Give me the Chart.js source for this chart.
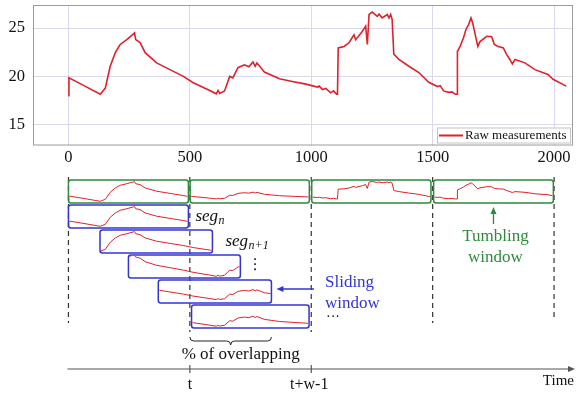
<!DOCTYPE html>
<html>
<head>
<meta charset="utf-8">
<script src="https://cdn.jsdelivr.net/npm/chart.js@4.4.1/dist/chart.umd.min.js"></script>
<style>
  html, body { margin: 0; padding: 0; background: #fff; }
  #wrap { position: relative; width: 576px; height: 396px; overflow: hidden; }
  #topChart { position: absolute; left: 0; top: 0; }
  #diagram { position: absolute; left: 0; top: 170px; }
</style>
</head>
<body>
<div id="wrap">
  <canvas id="topChart" width="576" height="170"></canvas>
  <canvas id="diagram" width="576" height="226"></canvas>
</div>
<script>
const rawTime = [
  0, 2, 60, 131, 152, 172, 193, 213, 240, 268,
  272, 277, 295, 316, 363, 418, 473, 514, 582, 609,
  616, 623, 643, 664, 677, 698, 725, 743, 760, 769,
  776, 807, 869, 917, 978, 1026, 1033, 1046, 1060, 1080,
  1092, 1104, 1108, 1111, 1135, 1156, 1176, 1183, 1210, 1224,
  1231, 1238, 1251, 1272, 1279, 1292, 1313, 1320, 1327, 1333,
  1340, 1361, 1402, 1443, 1484, 1520, 1531, 1545, 1566, 1580,
  1593, 1601, 1602, 1613, 1627, 1637, 1648, 1658, 1665, 1686,
  1695, 1716, 1722, 1743, 1754, 1770, 1791, 1805, 1818, 1828,
  1839, 1880, 1921, 1975, 1996, 2050
];
const rawValue = [
  18.0, 19.85, 19.1, 18.15, 18.8, 21.05, 22.45, 23.3, 23.8, 24.4,
  24.5, 23.8, 23.5, 22.45, 21.4, 20.7, 20.0, 19.35, 18.55, 18.2,
  18.55, 18.25, 18.5, 20.0, 19.85, 20.9, 21.2, 21.0, 21.5, 21.05,
  21.4, 20.45, 19.75, 19.5, 19.2, 18.9, 19.0, 18.65, 18.75, 18.3,
  18.5, 18.15, 18.15, 22.95, 23.1, 23.5, 24.3, 23.8, 24.65, 25.2,
  23.3, 26.4, 26.65, 26.2, 26.45, 26.05, 26.4, 26.05, 26.4, 25.9,
  22.3, 21.75, 21.05, 20.4, 19.4, 18.95, 19.05, 18.5, 18.35, 18.4,
  18.15, 18.15, 22.6, 23.1, 24.0, 24.85, 25.35, 26.05, 25.5, 23.1,
  23.6, 24.0, 24.15, 24.1, 23.3, 23.1, 22.95, 22.25, 21.75, 21.3,
  21.75, 21.4, 20.7, 20.2, 19.7, 19.0
];
const xTicks = [0, 500, 1000, 1500, 2000];
const yTicks = [15, 20, 25];

// windows in time units
const tumbleStart = [0, 501, 1002, 1504];
const tumbleEnd = [494, 992, 1493, 1997];
const slideStart = [0, 130, 247, 370, 507];
const slideEnd = [494, 593, 708, 836, 991];
const boundaries = [0, 500, 1000, 1500, 2000];
const timeMarks = [500, 1000];
const timeLabels = ['t', 't+w-1'];

// value range shown inside each small window
const tumbleLo = [17.6, 16.2, 16.2, 16.2];
const tumbleHi = [25.0, 27.4, 27.4, 27.4];
const slideLo = [17.6, 17.6, 17.7, 17.1, 17.6];
const slideHi = [25.0, 25.0, 24.4, 24.6, 25.2];

const X_MIN = -146, X_MAX = 2078;
const RED = '#e0212b';
const GREEN = '#2e8b3c';
const BLUE = '#3434d2';
const SERIF = '"Liberation Serif", "Times New Roman", serif';

// ---------- upper panel ----------
const framePlugin = {
  id: 'frame',
  afterDraw(chart) {
    const { ctx, chartArea: a } = chart;
    ctx.save();
    ctx.strokeStyle = '#9c9c9c';
    ctx.lineWidth = 1;
    ctx.strokeRect(a.left + 0.5, a.top + 0.5, a.right - a.left - 1, a.bottom - a.top - 1);

    // legend box in the lower right corner
    const ds = chart.data.datasets[0];
    const w = 134, h = 16;
    const lx = a.right - 2 - w, ly = a.bottom - 2 - h;
    ctx.fillStyle = '#fff';
    ctx.fillRect(lx, ly, w, h);
    ctx.strokeStyle = '#c4c4c4';
    ctx.strokeRect(lx + 0.5, ly + 0.5, w - 1, h - 1);
    ctx.strokeStyle = ds.borderColor;
    ctx.lineWidth = 2;
    ctx.beginPath();
    ctx.moveTo(lx + 2, ly + h / 2);
    ctx.lineTo(lx + 26, ly + h / 2);
    ctx.stroke();
    ctx.fillStyle = '#111';
    ctx.font = '13px ' + SERIF;
    ctx.textBaseline = 'middle';
    ctx.fillText(ds.label, lx + 28, ly + h / 2 + 0.5);
    ctx.restore();
  }
};

const tickFont = { family: SERIF, size: 16.5 };

new Chart(document.getElementById('topChart'), {
  type: 'line',
  data: {
    datasets: [{
      label: 'Raw measurements',
      data: rawTime.map((t, i) => ({ x: t, y: rawValue[i] })),
      borderColor: RED,
      borderWidth: 1.6,
      pointRadius: 0,
      tension: 0
    }]
  },
  options: {
    responsive: false,
    animation: false,
    layout: { padding: { top: 5, right: 3, left: 0, bottom: 0 } },
    plugins: { legend: { display: false }, tooltip: { enabled: false } },
    scales: {
      x: {
        type: 'linear',
        min: X_MIN,
        max: X_MAX,
        afterBuildTicks: s => { s.ticks = xTicks.map(v => ({ value: v })); },
        afterFit: s => { s.height = 24.5; s.paddingLeft = 0; s.paddingRight = 0; },
        grid: { color: '#d8d8ef', drawTicks: false },
        border: { display: false },
        ticks: { font: tickFont, color: '#111', padding: 2, maxRotation: 0, autoSkip: false, callback: v => String(v) }
      },
      y: {
        min: 12.86,
        max: 27.38,
        afterBuildTicks: s => { s.ticks = yTicks.map(v => ({ value: v })); },
        afterFit: s => { s.width = 33; s.paddingTop = 0; s.paddingBottom = 0; },
        grid: { color: '#d8d8ef', drawTicks: false },
        border: { display: false },
        ticks: { font: tickFont, color: '#111', padding: 8, callback: v => String(v) }
      }
    }
  },
  plugins: [framePlugin]
});

// ---------- lower panel: tumbling and sliding windows ----------
const ROW_TOP = r => 0.4 + r;   // in row units, 1 row = 25 px
const BOX_H = 0.92;

const windows = [];
tumbleStart.forEach((s, i) => windows.push({ start: s, end: tumbleEnd[i], row: 0, lo: tumbleLo[i], hi: tumbleHi[i], color: GREEN }));
slideStart.forEach((s, i) => windows.push({ start: s, end: slideEnd[i], row: i + 1, lo: slideLo[i], hi: slideHi[i], color: BLUE }));

function boxPx(chart, w) {
  const { x, y } = chart.scales;
  const top = ROW_TOP(w.row);
  return {
    x1: x.getPixelForValue(w.start), x2: x.getPixelForValue(w.end),
    y1: y.getPixelForValue(top), y2: y.getPixelForValue(top + BOX_H)
  };
}

function arrowHead(ctx, x, y, dir, color) {
  // dir: 'up', 'left' or 'right'
  ctx.fillStyle = color;
  ctx.beginPath();
  if (dir === 'up') {
    ctx.moveTo(x, y); ctx.lineTo(x - 3, y + 7); ctx.lineTo(x + 3, y + 7);
  } else if (dir === 'left') {
    ctx.moveTo(x, y); ctx.lineTo(x + 7, y - 3); ctx.lineTo(x + 7, y + 3);
  } else {
    ctx.moveTo(x, y); ctx.lineTo(x - 7, y - 3); ctx.lineTo(x - 7, y + 3);
  }
  ctx.closePath();
  ctx.fill();
}

const OFF = 170; // page offset of this canvas
const dashBottom = [323, 332, 332, 323, 318];

const diagramPlugin = {
  id: 'diagram',
  beforeDatasetsDraw(chart) {
    const { ctx, scales: { x } } = chart;
    ctx.save();
    ctx.strokeStyle = '#333';
    ctx.lineWidth = 1.2;
    ctx.setLineDash([5, 4]);
    boundaries.forEach((b, i) => {
      const px = x.getPixelForValue(b);
      ctx.beginPath();
      ctx.moveTo(px, 177 - OFF);
      ctx.lineTo(px, dashBottom[i] - OFF);
      ctx.stroke();
    });
    ctx.restore();
  },
  beforeDatasetDraw(chart, args) {
    const b = boxPx(chart, windows[args.index]);
    const ctx = chart.ctx;
    ctx.save();
    ctx.beginPath();
    ctx.rect(b.x1 + 1, b.y1 + 1, b.x2 - b.x1 - 2, b.y2 - b.y1 - 2);
    ctx.clip();
  },
  afterDatasetDraw(chart) {
    chart.ctx.restore();
  },
  afterDatasetsDraw(chart) {
    const ctx = chart.ctx;
    ctx.save();
    ctx.lineWidth = 1.5;
    windows.forEach(w => {
      const b = boxPx(chart, w);
      ctx.strokeStyle = w.color;
      ctx.beginPath();
      if (ctx.roundRect) ctx.roundRect(b.x1, b.y1, b.x2 - b.x1, b.y2 - b.y1, 2.5);
      else ctx.rect(b.x1, b.y1, b.x2 - b.x1, b.y2 - b.y1);
      ctx.stroke();
    });
    ctx.restore();
  },
  afterDraw(chart) {
    const { ctx, scales: { x } } = chart;
    ctx.save();

    // segment labels
    const seg = (px, cy, sub) => {
      ctx.fillStyle = '#111';
      ctx.textBaseline = 'alphabetic';
      ctx.textAlign = 'left';
      ctx.font = 'italic 17px ' + SERIF;
      ctx.fillText('seg', px, cy + 4);
      const w = ctx.measureText('seg').width;
      ctx.font = 'italic 12px ' + SERIF;
      ctx.fillText(sub, px + w + 0.5, cy + 7);
    };
    const b1 = boxPx(chart, windows[4]);
    const b2 = boxPx(chart, windows[5]);
    const b3 = boxPx(chart, windows[6]);
    seg(b1.x2 + 7, (b1.y1 + b1.y2) / 2, 'n');
    seg(b2.x2 + 13, (b2.y1 + b2.y2) / 2, 'n+1');
    ctx.font = '15px "DejaVu Sans"';
    ctx.textAlign = 'center';
    ctx.textBaseline = 'middle';
    ctx.fillText('\u22EE', b3.x2 + 15, (b3.y1 + b3.y2) / 2 - 1);

    // tumbling window label
    const tb = boxPx(chart, windows[3]);
    const tx = (tb.x1 + tb.x2) / 2;
    ctx.strokeStyle = GREEN;
    ctx.lineWidth = 1.3;
    ctx.beginPath();
    ctx.moveTo(tx, 224 - OFF);
    ctx.lineTo(tx, 212 - OFF);
    ctx.stroke();
    arrowHead(ctx, tx, 207 - OFF, 'up', GREEN);
    ctx.fillStyle = GREEN;
    ctx.font = '17px ' + SERIF;
    ctx.textAlign = 'center';
    ctx.textBaseline = 'alphabetic';
    ctx.fillText('Tumbling', tx + 2, 241 - OFF);
    ctx.fillText('window', tx + 2, 262 - OFF);

    // sliding window label
    const sb = boxPx(chart, windows[7]);
    ctx.strokeStyle = BLUE;
    ctx.beginPath();
    ctx.moveTo(314, 289 - OFF);
    ctx.lineTo(sb.x2 + 10, 289 - OFF);
    ctx.stroke();
    arrowHead(ctx, sb.x2 + 5, 289 - OFF, 'left', BLUE);
    ctx.fillStyle = BLUE;
    ctx.textAlign = 'left';
    ctx.fillText('Sliding', 325, 287 - OFF);
    ctx.fillText('window', 325, 308 - OFF);
    ctx.fillStyle = '#111';
    ctx.font = '14px ' + SERIF;
    ctx.fillText('\u00B7\u00B7\u00B7', 326, 321 - OFF);

    // brace for the overlap
    const bx1 = x.getPixelForValue(timeMarks[0]);
    const bx2 = x.getPixelForValue(slideEnd[3]);
    const by = 337 - OFF, bh = 8;
    const xm = (bx1 + bx2) / 2;
    ctx.strokeStyle = '#222';
    ctx.lineWidth = 1;
    ctx.beginPath();
    ctx.moveTo(bx1, by);
    ctx.quadraticCurveTo(bx1, by + bh / 2, bx1 + 4, by + bh / 2);
    ctx.lineTo(xm - 4, by + bh / 2);
    ctx.quadraticCurveTo(xm, by + bh / 2, xm, by + bh);
    ctx.quadraticCurveTo(xm, by + bh / 2, xm + 4, by + bh / 2);
    ctx.lineTo(bx2 - 4, by + bh / 2);
    ctx.quadraticCurveTo(bx2, by + bh / 2, bx2, by);
    ctx.stroke();
    ctx.fillStyle = '#111';
    ctx.font = '17px ' + SERIF;
    ctx.textAlign = 'center';
    ctx.fillText('% of overlapping', xm + 10, 359 - OFF);

    // time axis
    const ay = 369 - OFF;
    const ax1 = x.getPixelForValue(0) - 1;
    const ax2 = chart.chartArea.right + 2;
    ctx.strokeStyle = '#555';
    ctx.lineWidth = 1.2;
    ctx.beginPath();
    ctx.moveTo(ax1, ay);
    ctx.lineTo(ax2 - 4, ay);
    ctx.stroke();
    arrowHead(ctx, ax2, ay, 'right', '#555');
    timeMarks.forEach((t, i) => {
      const px = x.getPixelForValue(t);
      ctx.beginPath();
      ctx.moveTo(px, ay - 4);
      ctx.lineTo(px, ay + 4);
      ctx.stroke();
      ctx.fillStyle = '#111';
      ctx.font = '16px ' + SERIF;
      ctx.textAlign = 'center';
      ctx.fillText(timeLabels[i], px - (i ? 2 : 0), 389 - OFF);
    });
    ctx.font = '15px ' + SERIF;
    ctx.textAlign = 'right';
    ctx.fillText('Time', 574, 385 - OFF);

    ctx.restore();
  }
};

new Chart(document.getElementById('diagram'), {
  type: 'line',
  data: {
    datasets: windows.map(w => ({
      data: rawTime.map((t, i) => ({
        x: t,
        y: ROW_TOP(w.row) + (w.hi - rawValue[i]) / (w.hi - w.lo) * BOX_H
      })),
      borderColor: RED,
      borderWidth: 1,
      pointRadius: 0,
      tension: 0
    }))
  },
  options: {
    responsive: false,
    animation: false,
    layout: { padding: { top: 0, right: 3, left: 33, bottom: 0 } },
    plugins: { legend: { display: false }, tooltip: { enabled: false } },
    scales: {
      x: { type: 'linear', display: false, min: X_MIN, max: X_MAX },
      y: { display: false, min: 0, max: 9.04, reverse: true }
    }
  },
  plugins: [diagramPlugin]
});
</script>
</body>
</html>
